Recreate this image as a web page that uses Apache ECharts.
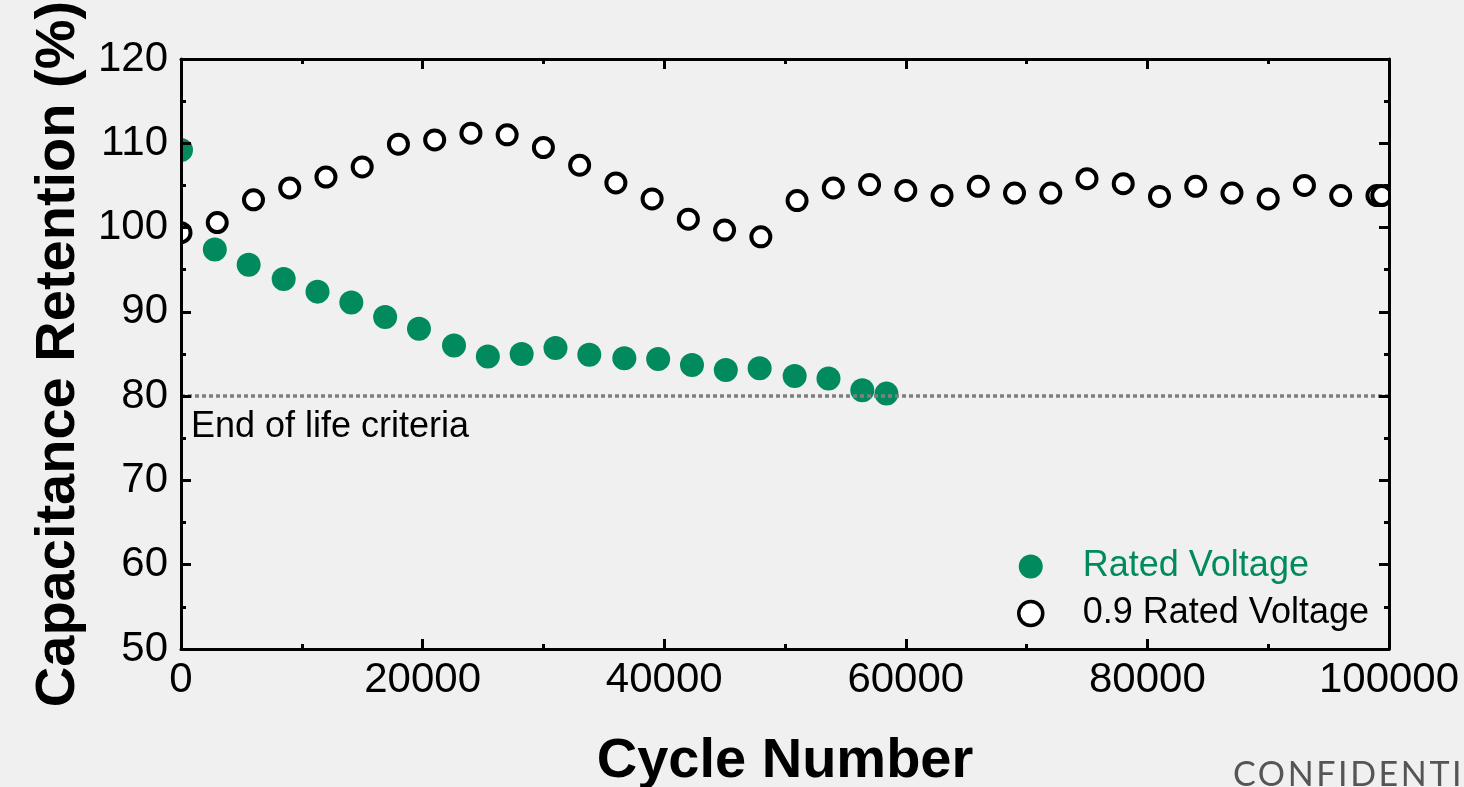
<!DOCTYPE html>
<html>
<head>
<meta charset="utf-8">
<title>Capacitance Retention vs Cycle Number</title>
<script src="https://cdn.jsdelivr.net/npm/echarts@6/dist/echarts.min.js"></script>
<style>
  html, body { margin: 0; padding: 0; background: #f0f0f0; overflow: hidden; }
  #wrap { position: relative; width: 1464px; height: 787px; overflow: hidden; }
  #chart { width: 1464px; height: 787px; }
  #stamp {
    position: absolute; left: 1233px; top: 756px;
    font: 34px/34px Lato, sans-serif; letter-spacing: 2.6px;
    color: #555555; white-space: nowrap;
  }
</style>
</head>
<body>
<div id="wrap">
  <div id="chart"></div>
  <div id="stamp">CONFIDENTIAL</div>
</div>
<script>
// Cycle test at rated voltage
const ratedCycles = [0, 2800, 5600, 8500, 11300, 14100, 16900, 19700, 22600, 25400, 28200,
  31000, 33800, 36700, 39500, 42300, 45100, 47900, 50800, 53600, 56400, 58400];
const ratedRetention = [109.2, 97.4, 95.6, 93.9, 92.4, 91.1, 89.4, 88.0, 86.0, 84.7, 85.0,
  85.7, 84.9, 84.5, 84.4, 83.7, 83.1, 83.3, 82.4, 82.1, 80.7, 80.3];

// Cycle test at 0.9 x rated voltage
const derateCycles = [0, 3000, 6000, 9000, 12000, 15000, 18000, 21000, 24000, 27000, 30000,
  33000, 36000, 39000, 42000, 45000, 48000, 51000, 54000, 57000, 60000, 63000, 66000,
  69000, 72000, 75000, 78000, 81000, 84000, 87000, 90000, 93000, 96000, 99000, 99400];
const derateRetention = [99.4, 100.6, 103.3, 104.7, 106.0, 107.2, 109.9, 110.4, 111.2, 111.0, 109.5,
  107.4, 105.3, 103.4, 101.0, 99.7, 98.9, 103.2, 104.7, 105.1, 104.4, 103.8, 104.9,
  104.1, 104.1, 105.8, 105.2, 103.7, 104.9, 104.1, 103.4, 105.0, 103.8, 103.8, 103.8];

const endOfLife = 80;
const xTicks = { min: 0, max: 100000, interval: 20000 };
const yTicks = { min: 50, max: 120, interval: 10 };

const seriesNames = ['Rated Voltage', '0.9 Rated Voltage'];
const endOfLifeLabel = 'End of life criteria';

const GREEN = '#008a5e';
const FONT = '"Liberation Sans", Arial, sans-serif';

const chart = echarts.init(document.getElementById('chart'));

const axisLine = { show: true, onZero: false, lineStyle: { color: '#000', width: 3 } };
const tick = { show: true, inside: true, length: 10, lineStyle: { color: '#000', width: 3 } };
const minor = { show: true, splitNumber: 2, length: 5, lineStyle: { color: '#000', width: 3 } };
const plain = v => String(v);

function pairs(xs, ys) { return xs.map((x, i) => [x, ys[i]]); }

chart.setOption({
  backgroundColor: '#f0f0f0',
  animation: false,
  grid: { left: 181, right: 75, top: 59, bottom: 138, containLabel: false, outerBoundsMode: 'none' },
  xAxis: [{
    type: 'value', position: 'bottom', z: 10,
    min: xTicks.min, max: xTicks.max, interval: xTicks.interval,
    axisLine, axisTick: tick, minorTick: minor,
    splitLine: { show: false }, minorSplitLine: { show: false },
    axisLabel: { color: '#000', fontSize: 42, fontFamily: FONT, margin: 10, formatter: plain },
    name: 'Cycle Number', nameLocation: 'middle', nameGap: 85,
    nameTextStyle: { color: '#000', fontSize: 56, fontWeight: 'bold', fontFamily: FONT }
  }, {
    type: 'value', position: 'top', z: 10,
    min: xTicks.min, max: xTicks.max, interval: xTicks.interval,
    axisLine, axisTick: tick, minorTick: minor,
    splitLine: { show: false }, axisLabel: { show: false }
  }],
  yAxis: [{
    type: 'value', position: 'left', z: 10,
    min: yTicks.min, max: yTicks.max, interval: yTicks.interval,
    axisLine, axisTick: tick, minorTick: minor,
    splitLine: { show: false }, minorSplitLine: { show: false },
    axisLabel: { color: '#000', fontSize: 42, fontFamily: FONT, margin: 13, formatter: plain },
    name: 'Capacitance Retention (%)', nameLocation: 'middle', nameGap: 92,
    nameTextStyle: { color: '#000', fontSize: 56, fontWeight: 'bold', fontFamily: FONT }
  }, {
    type: 'value', position: 'right', z: 10,
    min: yTicks.min, max: yTicks.max, interval: yTicks.interval,
    axisLine, axisTick: tick, minorTick: minor,
    splitLine: { show: false }, axisLabel: { show: false }
  }],
  legend: {
    left: 1017, top: 548, orient: 'vertical', padding: 0,
    itemWidth: 24, itemHeight: 24, itemGap: 10,
    textStyle: { fontSize: 36, fontFamily: FONT, lineHeight: 37, padding: [0, 0, 0, 35] },
    data: [
      { name: seriesNames[0], icon: 'circle', textStyle: { color: GREEN },
        itemStyle: { color: GREEN, borderWidth: 0 } },
      { name: seriesNames[1], icon: 'circle', textStyle: { color: '#000' },
        itemStyle: { color: '#fff', borderColor: '#000', borderWidth: 3.5 } }
    ],
    selectedMode: false
  },
  series: [{
    name: 'endOfLife', type: 'line', data: [], z: 1, silent: true,
    markLine: {
      silent: true, symbol: ['none', 'none'], animation: false,
      label: { show: false },
      lineStyle: { color: '#7f7f7f', width: 3.5, type: [4, 3] },
      emphasis: { disabled: true },
      data: [{ yAxis: endOfLife }]
    }
  }, {
    name: seriesNames[0], type: 'scatter', z: 3, clip: false,
    symbol: 'circle', symbolSize: 24,
    itemStyle: { color: GREEN, opacity: 1 },
    data: pairs(ratedCycles, ratedRetention)
  }, {
    name: seriesNames[1], type: 'scatter', z: 3, clip: false,
    symbol: 'circle', symbolSize: 19,
    itemStyle: { color: '#fff', borderColor: '#000', borderWidth: 4, opacity: 1 },
    data: pairs(derateCycles, derateRetention)
  }]
});

// Markers sitting on the frame are cut at the plot edge: cover the part outside
// the plotting area, the axis lines are drawn above this cover.
const p0 = chart.convertToPixel({ xAxisIndex: 0, yAxisIndex: 0 }, [xTicks.min, yTicks.max]);
const p1 = chart.convertToPixel({ xAxisIndex: 0, yAxisIndex: 0 }, [xTicks.max, yTicks.min]);
const pe = chart.convertToPixel({ xAxisIndex: 0, yAxisIndex: 0 }, [xTicks.min, endOfLife]);

chart.setOption({
  graphic: [
    { type: 'rect', z: 5, silent: true,
      shape: { x: p0[0] - 30, y: p0[1], width: 30, height: p1[1] - p0[1] },
      style: { fill: '#f0f0f0' } },
    { type: 'rect', z: 5, silent: true,
      shape: { x: p1[0], y: p0[1], width: 30, height: p1[1] - p0[1] },
      style: { fill: '#f0f0f0' } },
    { type: 'text', z: 6, silent: true, x: pe[0] + 10, y: pe[1] + 13,
      style: { text: endOfLifeLabel, fill: '#000', font: '36px ' + FONT,
        textAlign: 'left', textVerticalAlign: 'top' } }
  ]
});
</script>
</body>
</html>
